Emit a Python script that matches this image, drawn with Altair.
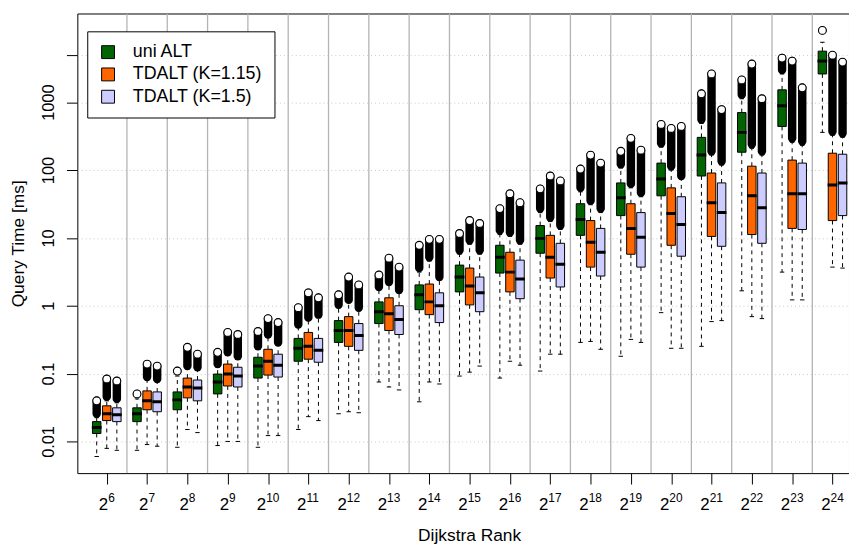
import altair as alt
import pandas as pd

exponents = list(range(6, 25))
series = ["uni ALT", "TDALT (K=1.15)", "TDALT (K=1.5)"]
colors = ["#006400", "#FF6600", "#CCCCFF"]

# uni ALT
g_lw = [0.0060, 0.0074, 0.0082, 0.0087, 0.0082, 0.0150, 0.0256, 0.0752, 0.0384, 0.0920, 0.0859, 0.109, 0.288, 0.180, 0.791, 0.252, 1.66, 3.13, 359]
g_q1 = [0.0131, 0.0196, 0.0293, 0.0502, 0.0859, 0.152, 0.288, 0.546, 0.875, 1.60, 3.03, 5.94, 10.9, 21.3, 41.7, 81.7, 183, 439, 2606]
g_med = [0.0160, 0.0256, 0.0410, 0.0752, 0.129, 0.236, 0.432, 0.817, 1.45, 2.65, 5.19, 9.84, 18.6, 39.0, 73.9, 166, 359, 889, 4034]
g_q3 = [0.0196, 0.0313, 0.0537, 0.0984, 0.174, 0.330, 0.604, 1.14, 2.03, 3.97, 7.78, 15.2, 31.9, 64.6, 126.5, 303, 703, 1521, 5649]
g_uw = [0.0224, 0.0424, 0.0920, 0.124, 0.228, 0.477, 0.935, 1.71, 3.13, 5.74, 11.2, 23.6, 47.7, 107, 217, 486, 1124, 2606, 7638]
g_olo = [0.0256, 0.0502, 0.109, 0.138, 0.252, 0.528, 1.03, 1.89, 3.59, 6.57, 12.9, 27.0, 54.6, 122, 248, 556, 1286, 2979, 11430]
g_ohi = [0.0397, 0.0502, 0.109, 0.206, 0.417, 0.935, 1.45, 2.84, 7.78, 11.6, 27.0, 52.8, 103.5, 189, 470, 1330, 2128, 4467, 11430]

# TDALT (K=1.15)
o_lw = [0.0079, 0.0090, 0.0150, 0.0100, 0.0122, 0.0232, 0.0274, 0.0635, 0.0752, 0.105, 0.152, 0.193, 0.298, 0.319, 0.236, 0.584, 0.691, 1.22, 3.71]
o_q1 = [0.0203, 0.0293, 0.0439, 0.0657, 0.0951, 0.163, 0.252, 0.432, 0.739, 1.03, 1.60, 2.56, 3.71, 5.74, 7.78, 10.5, 11.2, 13.8, 18.0]
o_med = [0.0256, 0.0397, 0.0635, 0.0984, 0.152, 0.252, 0.432, 0.764, 1.14, 1.96, 3.13, 5.19, 8.60, 13.8, 22.8, 33.0, 41.7, 44.7, 60.4]
o_q3 = [0.0335, 0.0556, 0.0859, 0.138, 0.228, 0.404, 0.691, 1.31, 2.09, 3.59, 6.14, 10.9, 18.0, 31.9, 54.6, 90.4, 114, 140, 177]
o_uw = [0.0397, 0.0804, 0.116, 0.186, 0.341, 0.604, 1.11, 2.03, 4.54, 8.04, 10.5, 17.4, 30.8, 54.6, 100, 166, 209, 256, 324]
o_olo = [0.0454, 0.0889, 0.129, 0.206, 0.377, 0.668, 1.22, 2.24, 5.19, 9.20, 12.0, 19.9, 35.2, 62.5, 114, 189, 240, 293, 371]
o_ohi = [0.0832, 0.138, 0.244, 0.404, 0.646, 1.55, 2.65, 5.02, 9.51, 18.0, 44.7, 81.7, 166, 293, 410, 2606, 3648, 4034, 4932]

# TDALT (K=1.5)
b_lw = [0.0074, 0.0085, 0.0135, 0.0100, 0.0122, 0.0203, 0.0265, 0.0574, 0.0703, 0.129, 0.133, 0.193, 0.228, 0.288, 0.236, 0.604, 0.646, 1.22, 3.59]
b_q1 = [0.0196, 0.0274, 0.0397, 0.0635, 0.0889, 0.147, 0.220, 0.377, 0.565, 0.817, 1.27, 1.89, 2.74, 3.71, 5.37, 7.52, 8.32, 13.3, 21.3]
b_med = [0.0248, 0.0384, 0.0614, 0.0920, 0.133, 0.220, 0.365, 0.625, 1.00, 1.55, 2.48, 4.10, 6.14, 10.2, 15.7, 23.6, 27.9, 44.7, 64.6]
b_q3 = [0.0313, 0.0537, 0.0804, 0.124, 0.193, 0.330, 0.546, 1.00, 1.55, 2.65, 4.70, 8.32, 13.8, 23.6, 40.4, 64.6, 90.4, 126.5, 171]
b_uw = [0.0371, 0.0752, 0.112, 0.163, 0.261, 0.668, 0.845, 1.55, 2.40, 5.74, 8.04, 13.3, 23.6, 40.4, 73.9, 118, 166, 231, 303]
b_olo = [0.0424, 0.0832, 0.124, 0.180, 0.288, 0.739, 0.935, 1.71, 2.65, 6.57, 9.20, 15.2, 27.0, 46.1, 81.7, 135, 189, 265, 347]
b_ohi = [0.0778, 0.129, 0.193, 0.377, 0.565, 1.31, 2.03, 3.71, 9.51, 16.3, 33.0, 69.0, 126.5, 196, 439, 778, 1124, 1629, 3899]

y_ticks = [0.01, 0.1, 1, 10, 100, 1000, 5000]

stats = [
    (g_lw, g_q1, g_med, g_q3, g_uw, g_olo, g_ohi),
    (o_lw, o_q1, o_med, o_q3, o_uw, o_olo, o_ohi),
    (b_lw, b_q1, b_med, b_q3, b_uw, b_olo, b_ohi),
]
rows = []
for s_i, name in enumerate(series):
    lw, q1, med, q3, uw, olo, ohi = stats[s_i]
    for g in range(len(exponents)):
        rows.append(dict(g=g, s=s_i, series=name, lw=lw[g], q1=q1[g], med=med[g],
                         q3=q3[g], uw=uw[g], olo=olo[g], ohi=ohi[g]))
df = pd.DataFrame(rows)
groups = pd.DataFrame({"g": list(range(len(exponents))), "exp": [str(e) for e in exponents]})

W, H = 779, 464
FONT = "Liberation Sans"
xscale = alt.Scale(domain=[-0.73, 18.41], nice=False, zero=False)
yscale = alt.Scale(type="log", domain=[0.003412, 20277], nice=False)

XAXIS = alt.Axis(values=list(range(len(exponents))), labels=False, tickSize=11,
                 tickColor="black", tickWidth=1, domain=False, grid=False,
                 title="Dijkstra Rank", titleFont=FONT, titleFontSize=17.5,
                 titleFontWeight="normal", titleColor="black",
                 titleX=395.5, titleY=68, titleBaseline="alphabetic", titleAlign="center")
YAXIS = alt.Axis(values=y_ticks, tickSize=11, tickColor="black", tickWidth=1, domain=False,
                 grid=True, gridColor="#c8c8c8", gridDash=[1, 3], gridWidth=1,
                 labelExpr="datum.value >= 5000 ? '' : (datum.value < 1 ? format(datum.value, '.2~f') : format(datum.value, 'd'))",
                 labelAngle=270, labelAlign="center", labelBaseline="alphabetic",
                 labelPadding=13, labelFont=FONT, labelFontSize=16.5, labelColor="black",
                 title="Query Time [ms]", titleFont=FONT, titleFontSize=17.5,
                 titleFontWeight="normal", titleColor="black", titleAngle=270,
                 titleX=-54, titleY=H / 2, titleBaseline="alphabetic", titleAlign="center")


def X(field):
    return alt.X(field, scale=xscale, axis=XAXIS)


def Y(field):
    return alt.Y(field, scale=yscale, axis=YAXIS)


base = alt.Chart(df).transform_calculate(
    pos="datum.g + (datum.s - 1) * 0.25",
    left="datum.g + (datum.s - 1) * 0.25 - 0.105",
    right="datum.g + (datum.s - 1) * 0.25 + 0.105",
    mleft="datum.g + (datum.s - 1) * 0.25 - 0.12",
    mright="datum.g + (datum.s - 1) * 0.25 + 0.12",
    capl="datum.g + (datum.s - 1) * 0.25 - 0.055",
    capr="datum.g + (datum.s - 1) * 0.25 + 0.055",
)

# vertical separators between groups
seps = alt.Chart(groups).transform_filter("datum.g < 18").transform_calculate(
    sep="datum.g + 0.5"
).mark_rule(color="#b4b4b4", strokeWidth=1.3, clip=True).encode(
    x=X("sep:Q"), y=alt.value(0), y2=alt.value(H),
)

whisk_up = base.mark_rule(color="black", strokeWidth=1, strokeDash=[4, 4], clip=True).encode(
    x=X("pos:Q"), y=Y("q3:Q"), y2="uw:Q")
whisk_lo = base.mark_rule(color="black", strokeWidth=1, strokeDash=[4, 4], clip=True).encode(
    x=X("pos:Q"), y=Y("q1:Q"), y2="lw:Q")
cap_up = base.mark_rule(color="black", strokeWidth=1, clip=True).encode(
    x=X("capl:Q"), x2="capr:Q", y=Y("uw:Q"))
cap_lo = base.mark_rule(color="black", strokeWidth=1, clip=True).encode(
    x=X("capl:Q"), x2="capr:Q", y=Y("lw:Q"))

boxes = base.mark_rect(stroke="black", strokeWidth=1, clip=True, opacity=1).encode(
    x=X("left:Q"), x2="right:Q",
    y=Y("q1:Q"), y2="q3:Q",
    fill=alt.Fill("series:N", scale=alt.Scale(domain=series, range=colors),
                  legend=alt.Legend(title=None, orient="none", legendX=10, legendY=18,
                                    direction="vertical", fillColor="white",
                                    strokeColor="black", padding=12,
                                    labelFont=FONT, labelFontSize=18, labelColor="black",
                                    labelOffset=16, rowPadding=4.5,
                                    symbolType="square", symbolSize=169,
                                    symbolStrokeColor="black", symbolStrokeWidth=1,
                                    symbolOpacity=1)),
)
medians = base.mark_rule(color="black", strokeWidth=3, clip=True).encode(
    x=X("mleft:Q"), x2="mright:Q", y=Y("med:Q"))

out_band = base.mark_rule(color="black", strokeWidth=8.5, strokeCap="round", clip=True).encode(
    x=X("pos:Q"), y=Y("olo:Q"), y2="ohi:Q")
out_top = base.mark_point(shape="circle", filled=True, fill="white", stroke="black",
                          strokeWidth=1.1, size=62, opacity=1, clip=True).encode(
    x=X("pos:Q"), y=Y("ohi:Q"))

# x tick labels 2^n
lab = alt.Chart(groups)
base1 = lab.transform_filter("length(datum.exp) == 1").mark_text(
    text="2", font=FONT, fontSize=17, align="left", baseline="alphabetic", dx=-8.1, color="black"
).encode(x=X("g:Q"), y=alt.value(H + 37))
exp1 = lab.transform_filter("length(datum.exp) == 1").mark_text(
    font=FONT, fontSize=12, align="left", baseline="alphabetic", dx=1.4, color="black"
).encode(x=X("g:Q"), y=alt.value(H + 29), text="exp:N")
base2 = lab.transform_filter("length(datum.exp) == 2").mark_text(
    text="2", font=FONT, fontSize=17, align="left", baseline="alphabetic", dx=-11.4, color="black"
).encode(x=X("g:Q"), y=alt.value(H + 37))
exp2 = lab.transform_filter("length(datum.exp) == 2").mark_text(
    font=FONT, fontSize=12, align="left", baseline="alphabetic", dx=-1.9, color="black"
).encode(x=X("g:Q"), y=alt.value(H + 29), text="exp:N")

chart = alt.layer(
    seps, whisk_up, whisk_lo, cap_up, cap_lo, boxes, medians,
    out_band, out_top, base1, exp1, base2, exp2
).properties(
    width=W, height=H,
    autosize=alt.AutoSizeParams(type="none"),
    padding={"left": 70, "top": 3, "right": 0, "bottom": 70},
    background="white",
).configure_view(
    stroke="black", strokeWidth=1
)

chart.save("out.html", embed_options={"renderer": "svg", "actions": False})
